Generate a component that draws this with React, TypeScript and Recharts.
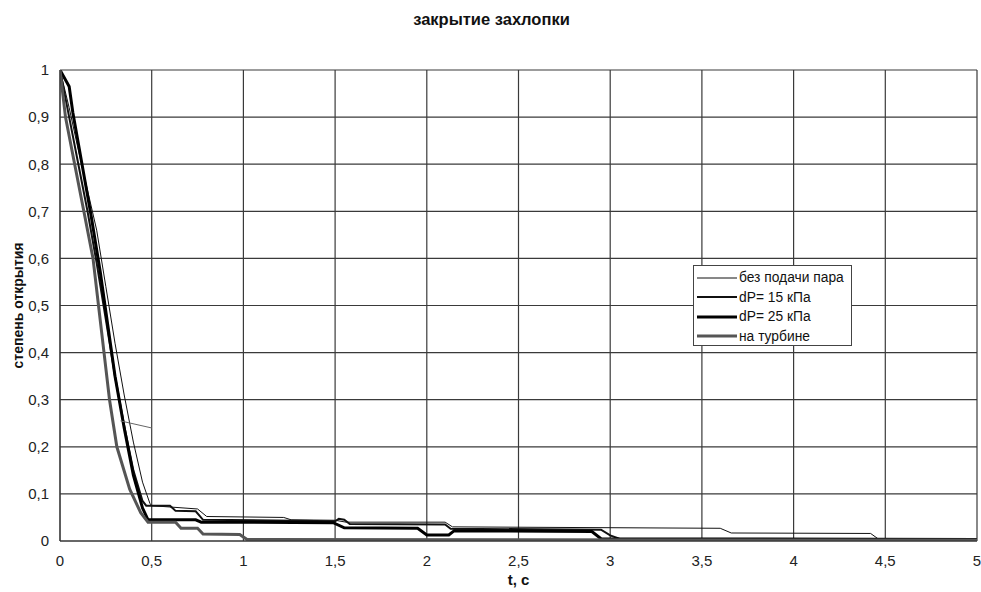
import React from 'react';
import { LineChart, Line, XAxis, YAxis, CartesianGrid, Legend, Label } from 'recharts';

const FONT = '"Liberation Sans", Arial, sans-serif';

const xTicks = [0, 0.5, 1, 1.5, 2, 2.5, 3, 3.5, 4, 4.5, 5];
const yTicks = [0, 0.1, 0.2, 0.3, 0.4, 0.5, 0.6, 0.7, 0.8, 0.9, 1];

// [t, degree of opening]
const noSteam = [
  [0, 1], [0.05, 0.92], [0.1, 0.83], [0.15, 0.745], [0.2, 0.66], [0.25, 0.54], [0.3, 0.42],
  [0.35, 0.31], [0.4, 0.21], [0.45, 0.125], [0.49, 0.08], [0.5, 0.075], [0.75, 0.068],
  [0.8, 0.052], [1.22, 0.05], [1.26, 0.045], [1.5, 0.044], [1.56, 0.04], [2.1, 0.04],
  [2.14, 0.03], [3.6, 0.027], [3.66, 0.017], [4.42, 0.016], [4.47, 0.002], [5, 0.002],
];
const dp15 = [
  [0, 1], [0.05, 0.9], [0.1, 0.8], [0.15, 0.7], [0.2, 0.59], [0.25, 0.47], [0.3, 0.35],
  [0.35, 0.245], [0.4, 0.15], [0.45, 0.085], [0.47, 0.075], [0.6, 0.075], [0.63, 0.064],
  [0.74, 0.063], [0.78, 0.045], [1.5, 0.042], [1.52, 0.047], [1.55, 0.045], [1.58, 0.036],
  [2.1, 0.035], [2.13, 0.026], [2.95, 0.024], [3.0, 0.012], [3.05, 0.005], [5, 0.002],
];
const dp25 = [
  [0, 1], [0.05, 0.965], [0.07, 0.91], [0.12, 0.8], [0.17, 0.69], [0.22, 0.57], [0.26, 0.46],
  [0.3, 0.35], [0.35, 0.24], [0.4, 0.14], [0.45, 0.07], [0.48, 0.045], [0.74, 0.045],
  [0.77, 0.04], [1.49, 0.039], [1.55, 0.028], [1.95, 0.027], [2.0, 0.013], [2.12, 0.013],
  [2.15, 0.022], [2.9, 0.02], [2.95, 0.005], [5, 0.003],
];
const onTurbine = [
  [0, 1], [0.03, 0.9], [0.08, 0.8], [0.13, 0.7], [0.18, 0.6], [0.21, 0.5], [0.24, 0.4],
  [0.27, 0.3], [0.31, 0.2], [0.38, 0.11], [0.44, 0.06], [0.47, 0.045], [0.48, 0.04],
  [0.63, 0.04], [0.66, 0.027], [0.75, 0.027], [0.78, 0.015], [0.98, 0.014], [1.02, 0.003],
  [5, 0.002],
];
// stray pen mark on the scan
const strayMark = [[0.33, 0.255], [0.5, 0.24]];

const toPoints = (arr: number[][]) => arr.map(([t, v]) => ({ t, v }));

const series = [
  { name: 'без подачи пара', data: noSteam, color: '#111', width: 1 },
  { name: 'dP= 15 кПа', data: dp15, color: '#111', width: 2 },
  { name: 'dP= 25 кПа', data: dp25, color: '#000', width: 3 },
  { name: 'на турбине', data: onTurbine, color: '#555', width: 3 },
];

const fmt = (v: number) => String(Math.round(v * 10) / 10).replace('.', ',');

const YTitle = ({ viewBox }: any) => {
  const cy = viewBox ? viewBox.y + viewBox.height / 2 : 305;
  return (
    <text
      x={18}
      y={cy}
      transform={`rotate(-90, 18, ${cy})`}
      textAnchor="middle"
      dominantBaseline="central"
      fontFamily={FONT}
      fontSize={14}
      fontWeight="bold"
      fill="#111"
    >
      степень открытия
    </text>
  );
};

const LegendBox = () => (
  <div
    style={{
      width: 159,
      height: 81,
      border: '1px solid #444',
      background: '#fff',
      fontFamily: FONT,
      fontSize: 13.8,
      color: '#111',
      padding: '2px 0 0 3px',
      boxSizing: 'border-box',
      whiteSpace: 'nowrap',
    }}
  >
    {series.map((s) => (
      <div key={s.name} style={{ display: 'flex', alignItems: 'center', height: 19.5 }}>
        <svg width={40} height={8} style={{ marginRight: 2, flex: 'none' }}>
          <line x1={0} y1={4} x2={40} y2={4} stroke={s.color} strokeWidth={s.width} />
        </svg>
        <span>{s.name}</span>
      </div>
    ))}
  </div>
);

export default function App() {
  return (
    <div style={{ position: 'absolute', left: 0, top: 0, width: 981, height: 592, background: '#fff' }}>
      <div
        style={{
          position: 'absolute',
          top: 10,
          left: 0,
          width: 983,
          textAlign: 'center',
          fontFamily: FONT,
          fontSize: 16.5,
          fontWeight: 'bold',
          color: '#111',
        }}
      >
        закрытие захлопки
      </div>
      <LineChart width={981} height={592} margin={{ top: 70, right: 4, bottom: 21, left: 0 }}>
        <CartesianGrid stroke="#3a3a3a" strokeWidth={1.2} horizontalValues={yTicks} verticalValues={xTicks} />
        <XAxis
          type="number"
          dataKey="t"
          domain={[0, 5]}
          ticks={xTicks}
          tickFormatter={fmt}
          height={30}
          tickSize={0}
          tickMargin={14}
          axisLine={{ stroke: '#333' }}
          tick={{ fill: '#222', fontSize: 15, fontFamily: FONT }}
          allowDataOverflow
        >
          <Label
            value="t, c"
            position="bottom"
            offset={3}
            style={{ fontFamily: FONT, fontSize: 15, fontWeight: 'bold', fill: '#111' }}
          />
        </XAxis>
        <YAxis
          type="number"
          domain={[0, 1]}
          ticks={yTicks}
          tickFormatter={fmt}
          width={60}
          tickSize={0}
          tickMargin={11}
          axisLine={{ stroke: '#333' }}
          tick={{ fill: '#222', fontSize: 15, fontFamily: FONT }}
          allowDataOverflow
        >
          <Label content={<YTitle />} />
        </YAxis>
        {series.map((s) => (
          <Line
            key={s.name}
            name={s.name}
            data={toPoints(s.data)}
            dataKey="v"
            type="linear"
            stroke={s.color}
            strokeWidth={s.width}
            dot={false}
            activeDot={false}
            isAnimationActive={false}
          />
        ))}
        <Line
          name="mark"
          data={toPoints(strayMark)}
          dataKey="v"
          type="linear"
          stroke="#666"
          strokeWidth={1}
          dot={false}
          activeDot={false}
          legendType="none"
          isAnimationActive={false}
        />
        <Legend
          layout="horizontal"
          align="center"
          verticalAlign="middle"
          content={<LegendBox />}
          wrapperStyle={{ position: 'absolute', left: 693, top: 265, width: 159, height: 81 }}
        />
      </LineChart>
    </div>
  );
}
